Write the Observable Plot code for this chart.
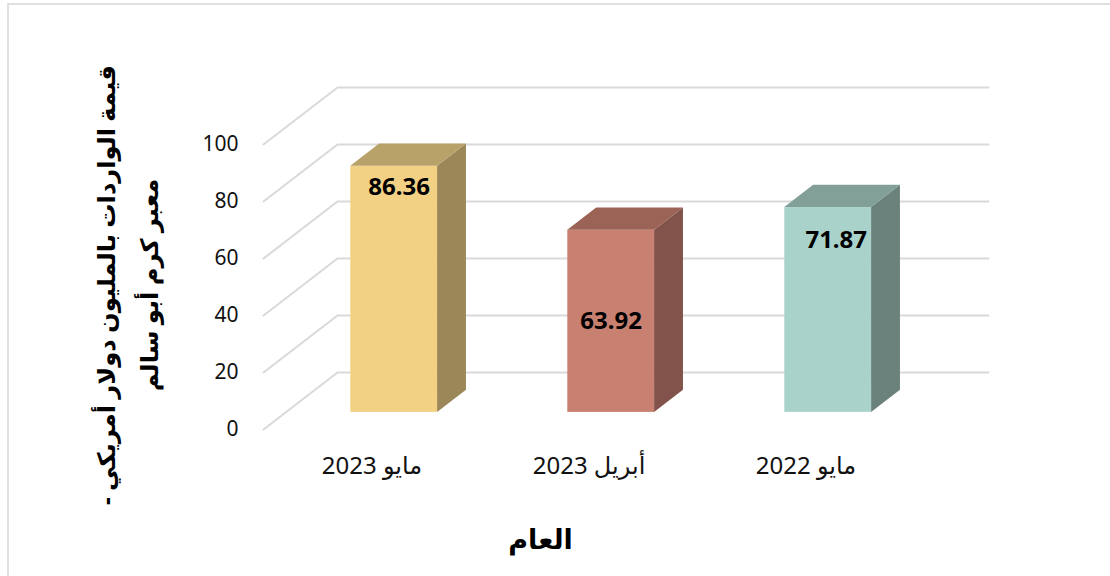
<!DOCTYPE html>
<html lang="ar">
<head>
<meta charset="utf-8">
<script src="https://cdn.jsdelivr.net/npm/d3@7"></script>
<script src="https://cdn.jsdelivr.net/npm/@observablehq/plot@0.6"></script>
<style>
html,body{margin:0;padding:0;background:#fff;}
#chart{position:absolute;left:0;top:0;width:1110px;height:576px;overflow:hidden;}
#chart svg{display:block;}
#edge{position:absolute;left:7px;top:3px;right:0;bottom:0;border-left:2px solid #e0e0e0;border-top:2px solid #e0e0e0;}
</style>
</head>
<body>
<div id="edge"></div>
<div id="chart"></div>
<script>
const categories = ["مايو 2023", "أبريل 2023", "مايو 2022"];
const values = [86.36, 63.92, 71.87];
const frontColors = ["#f2d185", "#c88071", "#a9d3ca"];
const topColors = ["#b9a16a", "#9b6356", "#82a097"];
const sideColors = ["#9b8757", "#82534a", "#6b827c"];
const yTicks = [0, 20, 40, 60, 80, 100];
const yTitle = "قيمة الواردات بالمليون دولار أمريكي -\u200f\nمعبر كرم أبو سالم";
const xTitle = "العام";

// oblique projection: depth 0 = front of the floor, depth 1 = back wall
const shearX = 0.341, shearY = 20;
const barWidth = 0.4, depthFront = 0.3, depthBack = 0.69;
const at = (x, v, d) => ({x: x + d * shearX, y: v + d * shearY});

const rows = values.map((v, i) => {
  const x1 = i + 0.5 - barWidth / 2, x2 = x1 + barWidth;
  return {i, v, x1, x2, cat: categories[i]};
});

const grid = yTicks.flatMap(t => [
  {t, ...at(0, t, 0)}, {t, ...at(0, t, 1)}, {t, ...at(3, t, 1)}
]);

const front = rows.map(r => ({
  ...r,
  a: at(r.x1, 0, depthFront).x, b: at(r.x2, 0, depthFront).x,
  lo: at(0, 0, depthFront).y, hi: at(0, r.v, depthFront).y
}));
const side = rows.flatMap(r => [depthFront, depthBack].map(d => ({
  i: r.i, x: at(r.x2, 0, d).x, lo: at(0, 0, d).y, hi: at(0, r.v, d).y
})));
const top_ = rows.flatMap(r => [depthFront, depthBack].map(d => ({
  i: r.i, y: at(0, r.v, d).y, a: at(r.x1, 0, d).x, b: at(r.x2, 0, d).x
})));
// label anchors relative to the bar: along the width and down from the top
const labelOffsetX = [0.023, 0, 0.037];
const labelOffsetY = [-7.5, -32, -11.5];
const labels = front.map((r, i) => ({
  x: (r.a + r.b) / 2 + labelOffsetX[i],
  y: r.v + labelOffsetY[i] + depthFront * shearY,
  text: r.v.toFixed(2)
}));

const font = "'Noto Sans','DejaVu Sans',sans-serif";
const plot = Plot.plot({
  width: 1110, height: 576,
  marginLeft: 263, marginRight: 196, marginTop: 144, marginBottom: 147,
  x: {domain: [0, 3]},
  y: {domain: [0, 100]},
  style: {fontFamily: font, background: "transparent", overflow: "visible"},
  marks: [
    Plot.line(grid, {x: "x", y: "y", z: "t", stroke: "#d9d9d9", strokeWidth: 2}),
    Plot.rectY(front, {x1: "a", x2: "b", y1: "lo", y2: "hi", fill: d => frontColors[d.i]}),
    Plot.areaY(side, {x: "x", y1: "lo", y2: "hi", z: "i", fill: d => sideColors[d.i]}),
    Plot.areaX(top_, {y: "y", x1: "a", x2: "b", z: "i", fill: d => topColors[d.i]}),
    Plot.text(labels, {x: "x", y: "y", text: "text", fontSize: 24, fontWeight: 700, fill: "#000"}),
    Plot.axisY({ticks: yTicks, tickSize: 0, tickPadding: 25, fontSize: 21, label: null, color: "#111"}),
    Plot.axisX({ticks: [0.5, 1.5, 2.5], tickFormat: d => categories[d - 0.5], tickSize: 0, tickPadding: 27, fontSize: 24, label: null, color: "#111"}),
    Plot.text([yTitle], {
      frameAnchor: "left", textAnchor: "middle", dx: -141, dy: -2,
      text: d => d, rotate: -90, fontSize: 24.2, fontWeight: 700, fill: "#000", lineHeight: 1.78
    }),
    Plot.text([xTitle], {
      frameAnchor: "bottom-left", textAnchor: "middle", dx: 277, dy: 119,
      text: d => d, fontSize: 27, fontWeight: 700, fill: "#000"
    })
  ]
});
document.getElementById("chart").appendChild(plot);
</script>
</body>
</html>
